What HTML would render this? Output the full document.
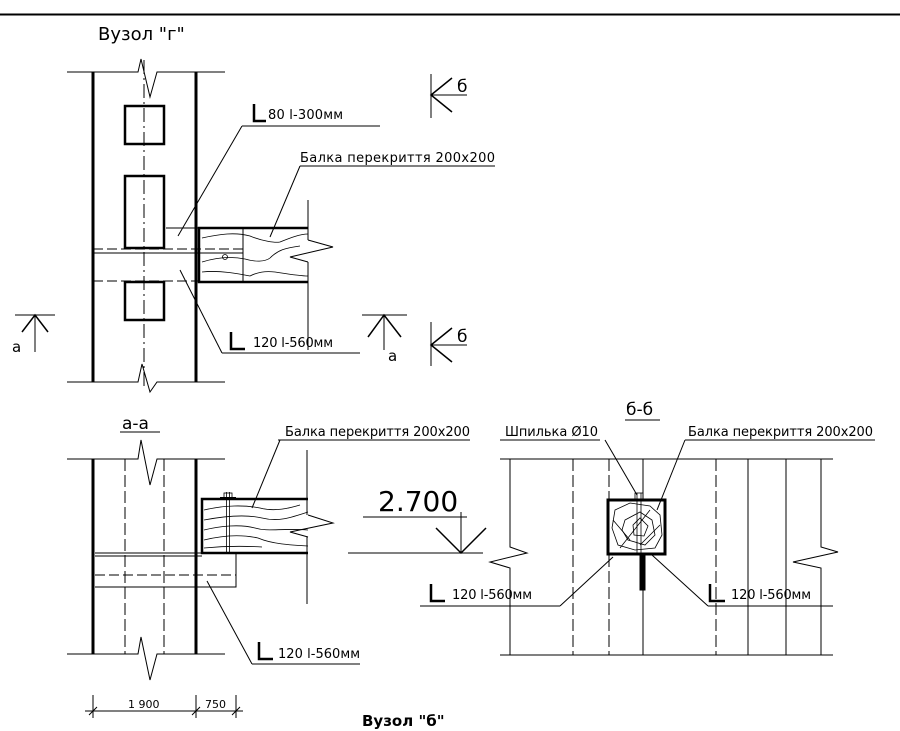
<!DOCTYPE html>
<html><head><meta charset="utf-8"><style>
html,body{margin:0;padding:0;background:#fff;}
svg{display:block;}
text{font-family:"DejaVu Sans","Liberation Sans",sans-serif;fill:#000;}
</style></head><body>
<svg width="900" height="731" viewBox="0 0 900 731" xmlns="http://www.w3.org/2000/svg">
<g fill="none" stroke="#000" stroke-width="1">
<line x1="0" y1="14.5" x2="900" y2="14.5" stroke-width="2"/>

<!-- TOP VIEW -->
<path d="M67,72 L138,72 L141,59 L150,97 L157,72 L225,72"/>
<path d="M67,382 L138,382 L142,364 L150,392 L157,382 L225,382"/>
<line x1="93" y1="72" x2="93" y2="382" stroke-width="3"/>
<line x1="196" y1="72" x2="196" y2="382" stroke-width="3"/>
<line x1="144" y1="60" x2="144" y2="390" stroke-dasharray="14,4,2,4"/>
<rect x="125" y="106" width="39" height="38" stroke-width="2.5"/>
<rect x="125" y="176" width="39" height="72" stroke-width="2.5"/>
<rect x="125" y="282" width="39" height="38" stroke-width="2.5"/>
<line x1="166" y1="228" x2="199" y2="228"/>
<line x1="93" y1="249" x2="243" y2="249" stroke-dasharray="10,4"/>
<line x1="93" y1="253" x2="243" y2="253"/>
<line x1="93" y1="281" x2="199" y2="281" stroke-dasharray="10,4"/>
<path d="M308,228 L199,228 L199,282 L308,282" stroke-width="2.5"/>
<line x1="243" y1="228" x2="243" y2="282"/>
<path d="M308,240 L333,247 L290,257 L308,262"/>
<line x1="308" y1="200" x2="308" y2="240"/>
<line x1="308" y1="262" x2="308" y2="350"/>
<path d="M202,238 C220,234 235,232 250,236 C262,241 275,243 280,242 C290,238 300,234 308,234" stroke-width="0.8"/>
<path d="M202,262 C215,258 230,256 245,259 C255,262 265,262 270,258 C278,250 285,248 300,246" stroke-width="0.8"/>
<path d="M202,272 C220,270 240,274 250,276 C258,272 265,271 275,272 C288,274 300,276 308,276" stroke-width="0.8"/>
<circle cx="225" cy="257" r="2.5" stroke-width="0.8"/>
<!-- leaders top -->
<line x1="242" y1="126" x2="380" y2="126"/>
<line x1="242" y1="126" x2="178" y2="236"/>
<path d="M254,104 L254,121 L266,121" stroke-width="2.5"/>
<line x1="300" y1="166" x2="495" y2="166"/>
<line x1="300" y1="166" x2="270" y2="237"/>
<line x1="222" y1="353" x2="360" y2="353"/>
<line x1="222" y1="353" x2="180" y2="270"/>
<path d="M231,332 L231,349 L245,349" stroke-width="2.5"/>
<!-- section markers -->
<line x1="15" y1="315" x2="55" y2="315"/>
<line x1="35" y1="315" x2="35" y2="352"/>
<path d="M22,332 L35,315 L48,332" stroke-width="1.5"/>
<line x1="362" y1="315" x2="407" y2="315"/>
<line x1="384" y1="315" x2="384" y2="350"/>
<path d="M368,337 L384,315 L401,337" stroke-width="1.5"/>
<line x1="431" y1="74" x2="431" y2="118"/>
<line x1="431" y1="95" x2="467" y2="95"/>
<path d="M452,78 L431,95 L452,112" stroke-width="1.5"/>
<line x1="431" y1="322" x2="431" y2="366"/>
<line x1="431" y1="345" x2="467" y2="345"/>
<path d="M452,328 L431,345 L452,362" stroke-width="1.5"/>

<!-- SECTION a-a -->
<line x1="120" y1="432" x2="160" y2="432"/>
<path d="M67,459 L138,459 L141,440 L150,485 L157,459 L225,459"/>
<path d="M67,654 L138,654 L141,637 L150,680 L157,654 L225,654"/>
<line x1="93" y1="459" x2="93" y2="654" stroke-width="3"/>
<line x1="196" y1="459" x2="196" y2="654" stroke-width="3"/>
<line x1="125" y1="459" x2="125" y2="654" stroke-dasharray="12,4"/>
<line x1="164" y1="459" x2="164" y2="654" stroke-dasharray="12,4"/>
<path d="M95,553 L236,553 L236,587 L95,587"/>
<line x1="95" y1="556" x2="202" y2="556"/>
<line x1="95" y1="575" x2="236" y2="575" stroke-dasharray="10,4"/>
<path d="M308,499 L202,499 L202,553 L308,553" stroke-width="2.5"/>
<path d="M308,515 L333,523 L290,532 L308,537"/>
<line x1="307" y1="450" x2="307" y2="515"/>
<line x1="307" y1="537" x2="307" y2="604"/>
<line x1="348" y1="553" x2="360" y2="553"/>
<path d="M204,510 C225,505 245,505 260,508 C275,512 290,508 300,505" stroke-width="0.8"/>
<path d="M204,520 C225,516 245,514 262,518 C278,522 290,518 308,512" stroke-width="0.8"/>
<path d="M204,530 C220,526 240,524 255,528 C268,532 280,528 308,530" stroke-width="0.8"/>
<path d="M204,540 C220,536 240,534 258,538 C272,544 290,545 308,546" stroke-width="0.8"/>
<path d="M204,548 C225,546 245,546 262,547" stroke-width="0.8"/>
<line x1="226.5" y1="492" x2="226.5" y2="553" stroke-width="0.8"/>
<line x1="229.5" y1="492" x2="229.5" y2="553" stroke-width="0.8"/>
<rect x="224" y="493" width="8" height="5" stroke-width="0.8"/>
<line x1="220" y1="498" x2="236" y2="498" stroke-width="2"/>
<line x1="278" y1="440" x2="470" y2="440"/>
<line x1="280" y1="440" x2="252" y2="508"/>
<line x1="252" y1="664" x2="360" y2="664"/>
<line x1="252" y1="664" x2="207" y2="581"/>
<path d="M259,642 L259,659 L273,659" stroke-width="2.5"/>
<!-- dims -->
<line x1="85" y1="711" x2="243" y2="711"/>
<line x1="93" y1="695" x2="93" y2="718"/>
<line x1="196" y1="695" x2="196" y2="718"/>
<line x1="236" y1="695" x2="236" y2="718"/>
<line x1="89" y1="715" x2="97" y2="707"/>
<line x1="192" y1="715" x2="200" y2="707"/>
<line x1="232" y1="715" x2="240" y2="707"/>

<!-- 2.700 mark -->
<line x1="363" y1="517" x2="467" y2="517"/>
<line x1="461" y1="512" x2="461" y2="553"/>
<path d="M436,528 L461,553 L486,528" stroke-width="1.5"/>
<line x1="348" y1="553" x2="483" y2="553"/>

<!-- SECTION б-б -->
<line x1="625" y1="420" x2="660" y2="420"/>
<line x1="500" y1="459" x2="833" y2="459"/>
<line x1="500" y1="655" x2="833" y2="655"/>
<path d="M510,459 L510,547 L527,553 L490,562 L510,568 L510,655"/>
<path d="M821,459 L821,547 L838,552 L793,562 L821,568 L821,655"/>
<line x1="573" y1="459" x2="573" y2="655" stroke-dasharray="12,4"/>
<line x1="609" y1="459" x2="609" y2="655" stroke-dasharray="12,4"/>
<line x1="643" y1="459" x2="643" y2="655"/>
<line x1="716" y1="459" x2="716" y2="655" stroke-dasharray="12,4"/>
<line x1="748" y1="459" x2="748" y2="655"/>
<line x1="786" y1="459" x2="786" y2="655"/>
<rect x="608" y="500" width="57" height="54" stroke-width="3" fill="#fff"/>
<path d="M615,510 L630,503 L650,506 L660,515 L662,535 L655,548 L635,550 L618,545 L612,528 Z" stroke-width="0.8"/>
<path d="M625,520 L640,512 L652,520 L655,535 L645,545 L628,540 L622,530 Z" stroke-width="0.8"/>
<path d="M633,525 L640,518 L648,526 L644,536 L634,535 Z" stroke-width="0.8"/>
<path d="M613,520 L630,540 M650,510 L620,548 M660,525 L640,545" stroke-width="0.8"/>
<line x1="637" y1="493" x2="637" y2="553" stroke-width="0.8"/>
<line x1="641" y1="493" x2="641" y2="553" stroke-width="0.8"/>
<rect x="635" y="493" width="8" height="6" stroke-width="0.8"/>
<rect x="640" y="555" width="5" height="35" fill="#000" stroke-width="1"/>
<line x1="500" y1="440" x2="600" y2="440"/>
<line x1="605" y1="440" x2="637" y2="495"/>
<line x1="685" y1="440" x2="875" y2="440"/>
<line x1="685" y1="440" x2="657" y2="510"/>
<line x1="420" y1="606" x2="560" y2="606"/>
<line x1="560" y1="606" x2="613" y2="557"/>
<path d="M431,584 L431,601 L445,601" stroke-width="2.5"/>
<line x1="708" y1="606" x2="833" y2="606"/>
<line x1="708" y1="606" x2="652" y2="555"/>
<path d="M710,584 L710,601 L725,601" stroke-width="2.5"/>
</g>

<g>
<text x="98" y="40" font-size="18">Вузол "г"</text>
<text x="268" y="119" font-size="13" textLength="75">80 l-300мм</text>
<text x="300" y="162" font-size="13" textLength="195">Балка перекриття 200х200</text>
<text x="253" y="347" font-size="13" textLength="80">120 l-560мм</text>
<text x="12" y="352" font-size="15">а</text>
<text x="388" y="361" font-size="15">а</text>
<text x="457" y="92" font-size="17">б</text>
<text x="457" y="342" font-size="17">б</text>
<text x="122" y="429" font-size="17">а-а</text>
<text x="285" y="436" font-size="13" textLength="185">Балка перекриття 200х200</text>
<text x="278" y="658" font-size="13" textLength="82">120 l-560мм</text>
<text x="128" y="708" font-size="11">1 900</text>
<text x="205" y="708" font-size="11">750</text>
<text x="362" y="726" font-size="15" font-weight="bold">Вузол "б"</text>
<text x="378" y="511" font-size="28">2.700</text>
<text x="626" y="415" font-size="17">б-б</text>
<text x="505" y="436" font-size="13" textLength="93">Шпилька Ø10</text>
<text x="688" y="436" font-size="13" textLength="185">Балка перекриття 200х200</text>
<text x="452" y="599" font-size="13" textLength="80">120 l-560мм</text>
<text x="731" y="599" font-size="13" textLength="80">120 l-560мм</text>
</g>
</svg>
</body></html>
